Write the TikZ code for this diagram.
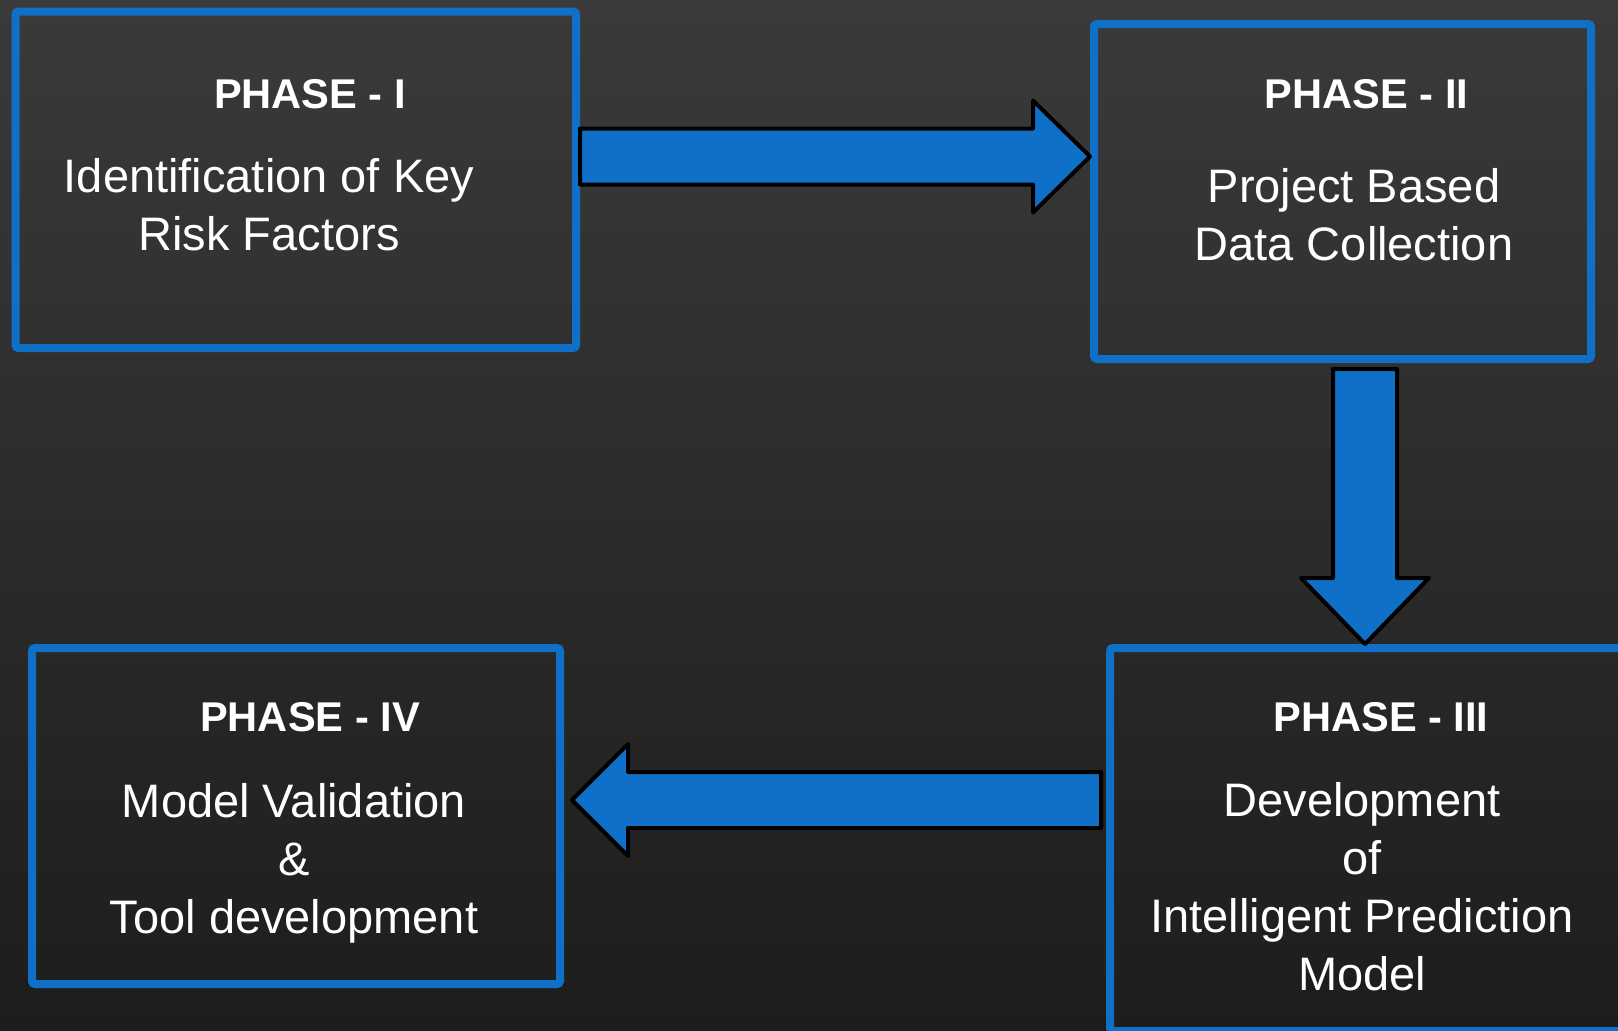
\documentclass[tikz,border=0pt]{standalone}
\usepackage{fontspec}
\setmainfont{Liberation Sans}
\usetikzlibrary{calc}

\definecolor{phaseblue}{RGB}{16,111,198}
\definecolor{bgtop}{RGB}{58,58,58}
\definecolor{bgbottom}{RGB}{29,29,29}

\tikzset{
  phase/.style={draw=phaseblue, line width=4pt, rounded corners=1.5pt},
  phasehead/.style={text=white, anchor=base, inner sep=0pt,
    font=\fontsize{20.8pt}{25pt}\selectfont\bfseries},
  % base of a multi-line node = baseline of its last line
  phasetext/.style={text=white, anchor=base, inner sep=0pt, align=center,
    font=\fontsize{23.5pt}{29pt}\selectfont},
  blockarrow/.style={draw=black, line width=2pt, fill=phaseblue, line join=round}
}

\begin{document}
\begin{tikzpicture}[x=0.5pt, y=-0.5pt]

    \useasboundingbox (0,0) rectangle (1618,1030);
    \shade[top color=bgtop, bottom color=bgbottom] (0,0) rectangle (1618,1030);
    \clip (0,0) rectangle (1618,1030);

    % the four phase boxes
    \node[phase, minimum width=280.25pt, minimum height=168.25pt] (p1) at (295.75,179.75) {};
    \node[phase, minimum width=248.5pt, minimum height=167.5pt] (p2) at (1342.5,191.5) {};
    \node[phase, minimum width=265pt, minimum height=191.5pt] (p3) at (1375,839.5) {};
    \node[phase, minimum width=264pt, minimum height=168pt] (p4) at (296,816) {};

    \node[phasehead] (h1) at (310,108) {PHASE - I};
    \node[phasetext] (t1) at (269,250) {Identification of Key\\Risk Factors};
    \node[phasehead] (h2) at (1366.5,108) {PHASE - II};
    \node[phasetext] (t2) at (1354,260) {Project Based\\Data Collection};
    \node[phasehead] (h3) at (1381,731.7) {PHASE - III};
    \node[phasetext] (t3) at (1362,990) {Development\\of\\Intelligent Prediction\\Model};
    \node[phasehead] (h4) at (310,731.7) {PHASE - IV};
    \node[phasetext] (t4) at (294,933) {Model Validation\\\&\\Tool development};

    % ends of the block arrows
    \coordinate (a1) at (p1.east |- 0,156.5);
    \coordinate (b1) at (p2.west |- 0,156.5);
    \coordinate (a2) at ($(p2.south -| 1365,0)+(0,6)$);
    \coordinate (b2) at (p3.north -| 1365,0);
    \coordinate (a3) at ($(p3.west |- 0,800)+(-5,0)$);
    \coordinate (b3) at ($(p4.east |- 0,800)+(8,0)$);

    \draw[blockarrow] (a1) ++(0,-28) -| ($(b1)+(-57,-56)$) -- (b1)
        -- ($(b1)+(-57,56)$) |- ($(a1)+(0,28)$) -- cycle;
    \draw[blockarrow] (a2) ++(-32,0) |- ($(b2)+(-64,-66)$) -- (b2)
        -- ($(b2)+(64,-66)$) -| ($(a2)+(32,0)$) -- cycle;
    \draw[blockarrow] (a3) ++(0,-28) -| ($(b3)+(56,-56)$) -- (b3)
        -- ($(b3)+(56,56)$) |- ($(a3)+(0,28)$) -- cycle;

\end{tikzpicture}
\end{document}
